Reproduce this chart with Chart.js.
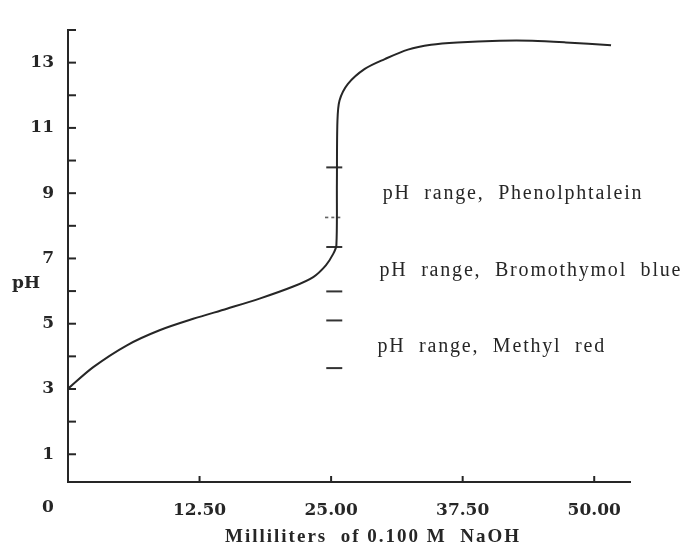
<!DOCTYPE html>
<html>
<head>
<meta charset="utf-8">
<script src="https://cdn.jsdelivr.net/npm/chart.js@4"></script>
<style>
  html, body { margin: 0; padding: 0; background: #fff; }
</style>
</head>
<body>
<canvas id="chart" width="683" height="547"></canvas>
<script>
// titration curve
let mlNaOH = [0, 2.4, 5.6, 8.7, 11.9, 15.1, 18.2, 21.4, 23.3, 24.5, 25.2, 25.5, 25.55, 25.6,
              25.8, 26.6, 28.2, 30.1, 32.3, 34.5, 37.0, 41.0, 44.1, 47.3, 51.6];
let pHvalues = [3.01, 3.67, 4.34, 4.80, 5.15, 5.46, 5.77, 6.14, 6.43, 6.79, 7.14, 7.40, 9.3, 11.2,
                11.84, 12.35, 12.81, 13.11, 13.40, 13.55, 13.62, 13.67, 13.67, 13.62, 13.53];

// indicator range marks on the steep part
let markVolume = 25.3;
let solidMarks = [9.79, 7.35, 5.99, 5.10, 3.64];
let dashedMarks = [8.26];

let xTicks = [0, 12.5, 25, 37.5, 50];
let yTicks = [1, 2, 3, 4, 5, 6, 7, 8, 9, 10, 11, 12, 13, 14];
let yLabeled = [1, 3, 5, 7, 9, 11, 13];

let rangeLabels = ["pH  range,  Phenolphtalein", "pH  range,  Bromothymol  blue", "pH  range,  Methyl  red"];
let xTitle = "Milliliters  of 0.100 M  NaOH";

const ink = "#262626";
const tickFont = { family: "DejaVu Serif", weight: "bold", size: 17 };

// dashed little bar used as a point style
let dashImg = document.createElement("canvas");
dashImg.width = 18; dashImg.height = 3;
let dctx = dashImg.getContext("2d");
dctx.strokeStyle = "#555";
dctx.lineWidth = 1.5;
dctx.setLineDash([3, 3]);
dctx.beginPath(); dctx.moveTo(0, 1.5); dctx.lineTo(18, 1.5); dctx.stroke();

const extras = {
  id: "extras",
  afterDraw(chart) {
    const ctx = chart.ctx;
    const xs = chart.scales.x, ys = chart.scales.y;
    const area = chart.chartArea;
    ctx.save();
    ctx.strokeStyle = ink;
    ctx.lineWidth = 2;
    // inside tick marks
    yTicks.forEach(v => {
      let y = ys.getPixelForValue(v);
      ctx.beginPath(); ctx.moveTo(area.left, y); ctx.lineTo(area.left + 8, y); ctx.stroke();
    });
    xTicks.slice(1).forEach(v => {
      let x = xs.getPixelForValue(v);
      ctx.beginPath(); ctx.moveTo(x, area.bottom); ctx.lineTo(x, area.bottom - 6); ctx.stroke();
    });

    ctx.fillStyle = ink;
    ctx.textBaseline = "middle";
    ctx.textAlign = "center";
    ctx.font = "bold 17px 'DejaVu Serif'";
    ctx.fillText("0", area.left - 20, 508);
    ctx.fillText("pH", 26, 284);

    ctx.font = "bold 19px 'Liberation Serif'";
    ctx.letterSpacing = "2px";
    ctx.fillText(xTitle, area.left + 305, 537);

    ctx.textAlign = "left";
    ctx.font = "20px 'Liberation Serif'";
    ctx.letterSpacing = "1.8px";
    const pos = [[29.9, 8.99], [29.6, 6.63], [29.4, 4.28]];
    rangeLabels.forEach((t, i) => {
      ctx.fillText(t, xs.getPixelForValue(pos[i][0]), ys.getPixelForValue(pos[i][1]));
    });
    ctx.restore();
  }
};

new Chart(document.getElementById("chart"), {
  type: "scatter",
  data: {
    datasets: [{
      data: mlNaOH.map((v, i) => ({ x: v, y: pHvalues[i] })),
      showLine: true,
      borderColor: ink,
      borderWidth: 2,
      pointRadius: 0,
      tension: 0.3
    }, {
      data: solidMarks.map(v => ({ x: markVolume, y: v })),
      pointStyle: "line",
      pointRadius: 8,
      borderColor: "#333",
      borderWidth: 2
    }, {
      data: dashedMarks.map(v => ({ x: markVolume, y: v })),
      pointStyle: dashImg,
      pointRadius: 8
    }]
  },
  options: {
    responsive: false,
    animation: false,
    layout: { padding: { top: 30, right: 53, bottom: 0, left: 0 } },
    plugins: { legend: { display: false }, tooltip: { enabled: false } },
    scales: {
      x: {
        type: "linear",
        min: 0,
        max: 53.4,
        grid: { display: false, drawTicks: false },
        border: { display: true, color: ink, width: 2 },
        afterBuildTicks: s => { s.ticks = xTicks.map(v => ({ value: v })); },
        afterFit: s => { s.height = 65; },
        ticks: {
          padding: 18,
          autoSkip: false,
          maxRotation: 0,
          color: ink,
          font: tickFont,
          callback: v => v === 0 ? "" : v.toFixed(2)
        }
      },
      y: {
        min: 0.15,
        max: 14,
        grid: { display: false, drawTicks: false },
        border: { display: true, color: ink, width: 2 },
        afterBuildTicks: s => { s.ticks = yTicks.map(v => ({ value: v })); },
        afterFit: s => { s.width = 68; },
        ticks: {
          padding: 14,
          color: ink,
          font: tickFont,
          callback: v => yLabeled.includes(v) ? String(v) : ""
        }
      }
    }
  },
  plugins: [extras]
});
</script>
</body>
</html>
